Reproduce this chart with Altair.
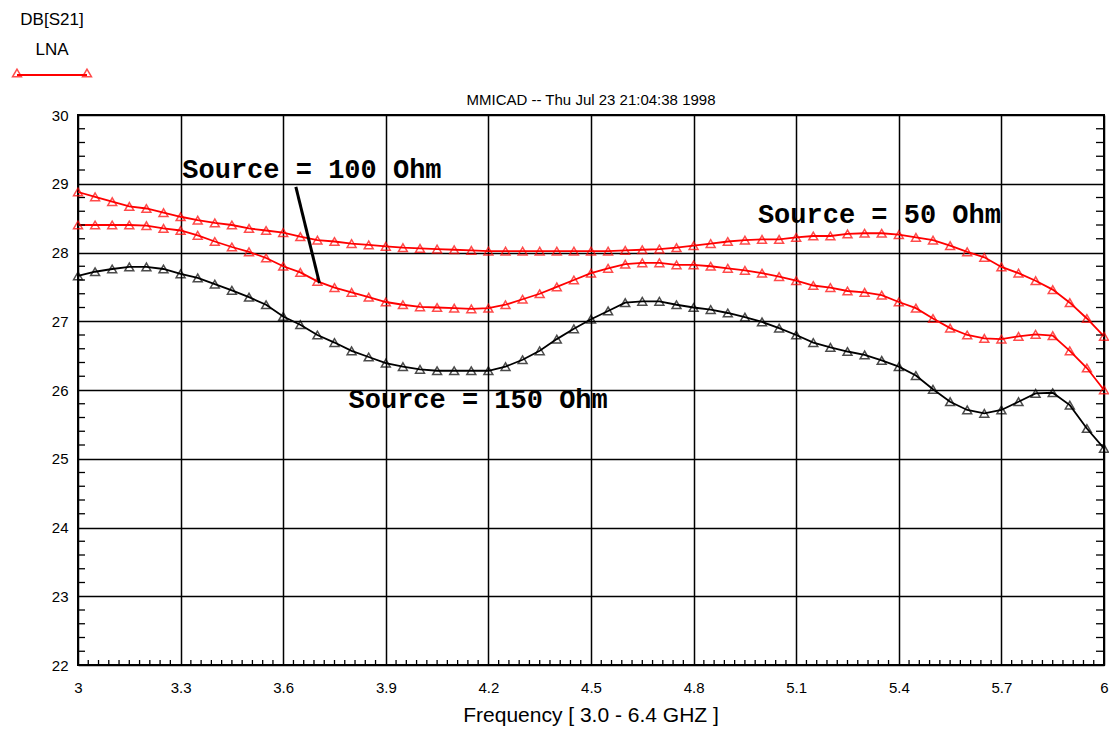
import altair as alt
import pandas as pd

# ---------------- data ----------------
freq = [3.00, 3.05, 3.10, 3.15, 3.20, 3.25, 3.30, 3.35, 3.40, 3.45,
        3.50, 3.55, 3.60, 3.65, 3.70, 3.75, 3.80, 3.85, 3.90, 3.95,
        4.00, 4.05, 4.10, 4.15, 4.20, 4.25, 4.30, 4.35, 4.40, 4.45,
        4.50, 4.55, 4.60, 4.65, 4.70, 4.75, 4.80, 4.85, 4.90, 4.95,
        5.00, 5.05, 5.10, 5.15, 5.20, 5.25, 5.30, 5.35, 5.40, 5.45,
        5.50, 5.55, 5.60, 5.65, 5.70, 5.75, 5.80, 5.85, 5.90, 5.95,
        6.00]

s50 = [28.88, 28.81, 28.74, 28.67, 28.64, 28.58, 28.52, 28.47, 28.43, 28.40,
       28.35, 28.32, 28.29, 28.23, 28.18, 28.16, 28.13, 28.11, 28.09, 28.07,
       28.06, 28.05, 28.04, 28.03, 28.02, 28.02, 28.02, 28.02, 28.02, 28.02,
       28.02, 28.02, 28.03, 28.04, 28.05, 28.07, 28.10, 28.13, 28.16, 28.18,
       28.19, 28.19, 28.22, 28.24, 28.24, 28.27, 28.28, 28.28, 28.26, 28.22,
       28.18, 28.10, 28.01, 27.93, 27.79, 27.70, 27.59, 27.46, 27.27, 27.04,
       26.78]

s100 = [28.40, 28.40, 28.40, 28.40, 28.39, 28.35, 28.32, 28.25, 28.16, 28.08,
        28.01, 27.92, 27.80, 27.71, 27.58, 27.49, 27.42, 27.35, 27.28, 27.24,
        27.21, 27.20, 27.19, 27.18, 27.19, 27.24, 27.32, 27.40, 27.50, 27.60,
        27.70, 27.77, 27.83, 27.85, 27.85, 27.82, 27.82, 27.80, 27.77, 27.74,
        27.70, 27.65, 27.59, 27.52, 27.49, 27.44, 27.42, 27.38, 27.28, 27.19,
        27.04, 26.90, 26.80, 26.75, 26.74, 26.78, 26.81, 26.79, 26.57, 26.32,
        26.00]

s150 = [27.66, 27.72, 27.76, 27.79, 27.79, 27.76, 27.69, 27.63, 27.54, 27.45,
        27.35, 27.24, 27.07, 26.95, 26.80, 26.69, 26.57, 26.48, 26.39, 26.34,
        26.30, 26.28, 26.28, 26.28, 26.28, 26.34, 26.44, 26.57, 26.74, 26.89,
        27.03, 27.15, 27.27, 27.29, 27.29, 27.24, 27.20, 27.17, 27.12, 27.06,
        26.99, 26.90, 26.80, 26.69, 26.62, 26.56, 26.51, 26.43, 26.34, 26.21,
        26.01, 25.83, 25.71, 25.66, 25.71, 25.83, 25.95, 25.96, 25.78, 25.44,
        25.15]

series_names = ["50 Ohm", "100 Ohm", "150 Ohm"]
series_colors = ["#ff0000", "#ff0000", "#000000"]
series_widths = [1.8, 1.8, 1.3]

x_major = [3, 3.3, 3.6, 3.9, 4.2, 4.5, 4.8, 5.1, 5.4, 5.7, 6]
y_major = [22, 23, 24, 25, 26, 27, 28, 29, 30]

label_text = ["Source = 100 Ohm", "Source = 50 Ohm", "Source = 150 Ohm"]
label_x = [3.305, 4.988, 3.791]
label_y = [29.20, 28.545, 25.855]

pointer_x = [3.637]
pointer_x2 = [3.706]
pointer_y = [28.953]
pointer_y2 = [27.556]

title_text = "MMICAD -- Thu Jul 23 21:04:38 1998"
x_title = "Frequency [ 3.0 - 6.4 GHZ ]"
legend_lines = ["DB[S21]", "LNA"]

# minor tick positions (axis decoration)
x_minor = [round(3 + 0.03 * i, 2) for i in range(1, 100) if i % 10 != 0]
y_minor = [round(22 + 0.2 * i, 1) for i in range(1, 40) if i % 5 != 0]

# ---------------- layout ----------------
W, H = 1026, 550
SANS = "Liberation Sans, Arial, sans-serif"
MONO = "Liberation Mono, Courier New, monospace"

rows = []
for name, vals in zip(series_names, [s50, s100, s150]):
    for f, v in zip(freq, vals):
        rows.append({"freq": f, "db": v, "series": name})
df = pd.DataFrame(rows)

xs = alt.Scale(domain=[3, 6], nice=False, zero=False)
ys = alt.Scale(domain=[22, 30], nice=False, zero=False)
cs = alt.Scale(domain=series_names, range=series_colors)
ws = alt.Scale(domain=series_names, range=series_widths)

x_enc = alt.X("freq:Q", scale=xs,
              axis=alt.Axis(values=x_major, format="~g", title=None,
                            grid=True, gridColor="#000000", gridWidth=1.5, gridOpacity=1,
                            ticks=False, tickSize=0, domain=False,
                            labelFont=SANS, labelFontSize=15, labelColor="#000000",
                            labelPadding=15, labelFlush=False))
y_enc = alt.Y("db:Q", scale=ys,
              axis=alt.Axis(values=y_major, format="~g", title=None,
                            grid=True, gridColor="#000000", gridWidth=1.5, gridOpacity=1,
                            ticks=False, tickSize=0, domain=False,
                            labelFont=SANS, labelFontSize=15, labelColor="#000000",
                            labelPadding=10, labelFlush=False))

base = alt.Chart(df)

lines = base.mark_line().encode(
    x=x_enc, y=y_enc,
    color=alt.Color("series:N", scale=cs, legend=None),
    strokeWidth=alt.StrokeWidth("series:N", scale=ws, legend=None),
    detail="series:N",
)

points = base.mark_point(shape="triangle-up", filled=False, size=80, strokeWidth=1.5).encode(
    x=alt.X("freq:Q", scale=xs),
    y=alt.Y("db:Q", scale=ys),
    color=alt.Color("series:N", scale=cs, legend=None),
)

# minor ticks
xm_df = pd.DataFrame({"freq": x_minor})
ym_df = pd.DataFrame({"db": y_minor})
bottom_ticks = alt.Chart(xm_df).mark_rule(color="#000000", strokeWidth=1.3).encode(
    x=alt.X("freq:Q", scale=xs), y=alt.value(H), y2=alt.value(H - 5))
left_ticks = alt.Chart(ym_df).mark_rule(color="#000000", strokeWidth=1.3).encode(
    y=alt.Y("db:Q", scale=ys), x=alt.value(0), x2=alt.value(7))
right_ticks = alt.Chart(ym_df).mark_rule(color="#000000", strokeWidth=1.3).encode(
    y=alt.Y("db:Q", scale=ys), x=alt.value(W - 8), x2=alt.value(W))

# annotations
lab_df = pd.DataFrame({"freq": label_x, "db": label_y, "text": label_text})
labels = alt.Chart(lab_df).mark_text(
    font=MONO, fontSize=27, fontWeight="bold", align="left", baseline="middle", color="#000000"
).encode(x=alt.X("freq:Q", scale=xs), y=alt.Y("db:Q", scale=ys), text="text:N")

ptr_df = pd.DataFrame({"freq": pointer_x, "freq2": pointer_x2, "db": pointer_y, "db2": pointer_y2})
pointer = alt.Chart(ptr_df).mark_rule(color="#000000", strokeWidth=3).encode(
    x=alt.X("freq:Q", scale=xs), x2="freq2:Q",
    y=alt.Y("db:Q", scale=ys), y2="db2:Q")

one = alt.Data(values=[{"a": 1}])
title = alt.Chart(one).mark_text(
    text=title_text, font=SANS, fontSize=15, baseline="middle", align="center", color="#000000"
).encode(x=alt.value(W / 2), y=alt.value(-15))
xtitle = alt.Chart(one).mark_text(
    text=x_title, font=SANS, fontSize=21, baseline="middle", align="center", color="#000000"
).encode(x=alt.value(W / 2), y=alt.value(H + 51))

leg1 = alt.Chart(one).mark_text(
    text=legend_lines[0], font=SANS, fontSize=17, baseline="middle", align="center", color="#000000"
).encode(x=alt.value(-26), y=alt.value(-95))
leg2 = alt.Chart(one).mark_text(
    text=legend_lines[1], font=SANS, fontSize=17, baseline="middle", align="center", color="#000000"
).encode(x=alt.value(-26), y=alt.value(-65))
leg_line = alt.Chart(one).mark_rule(color="#ff0000", strokeWidth=1.8).encode(
    x=alt.value(-61), x2=alt.value(9), y=alt.value(-40))
leg_pt1 = alt.Chart(one).mark_point(shape="triangle-up", filled=False, size=80, strokeWidth=1.5,
                                    color="#ff0000").encode(x=alt.value(-61), y=alt.value(-42))
leg_pt2 = alt.Chart(one).mark_point(shape="triangle-up", filled=False, size=80, strokeWidth=1.5,
                                    color="#ff0000").encode(x=alt.value(9), y=alt.value(-42))

chart = alt.layer(
    lines, bottom_ticks, left_ticks, right_ticks, points, pointer, labels,
    title, xtitle, leg1, leg2, leg_line, leg_pt1, leg_pt2
).resolve_scale(x="shared", y="shared").properties(
    width=W, height=H,
    autosize=alt.AutoSizeParams(type="none"),
    padding={"left": 70, "top": 107, "right": 5, "bottom": 64},
    background="#ffffff",
).configure_view(stroke="#000000", strokeWidth=2)

chart.save("out.html", embed_options={"renderer": "svg", "actions": False})
